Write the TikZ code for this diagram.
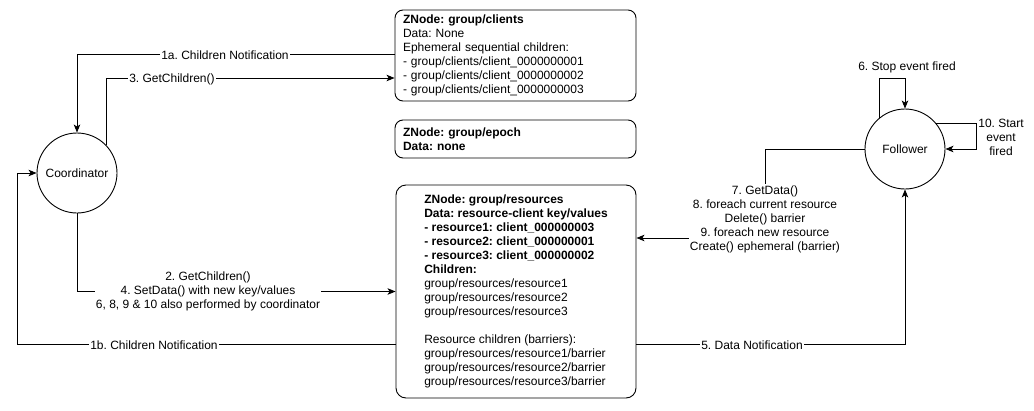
\documentclass[tikz,border=0pt]{standalone}
\usepackage{fontspec}
\setmainfont{Liberation Sans}
\usetikzlibrary{arrows.meta}
\begin{document}
\frenchspacing
\begin{tikzpicture}[x=1pt,y=-1pt,
  font=\fontsize{12}{14}\selectfont\frenchspacing,
  conn/.style={draw, line width=0.9pt, -{Stealth[length=8pt,width=6.5pt,inset=2pt]}},
  plain/.style={draw, line width=0.9pt},
  lbl/.style={fill=white, inner sep=1pt, align=center},
  actor/.style={circle, draw, line width=0.9pt, minimum size=80pt, inner sep=0pt},
  zbox/.style={draw, line width=0.9pt, rounded corners=8pt}]
\useasboundingbox (0,0) rectangle (1034,410);

% actors
\node[actor] (coord) at (77,173) {Coordinator};
\node[actor] (fol) at (905,149) {Follower};

% znodes
\node[zbox, minimum width=241pt, minimum height=91pt, text width=225pt, inner xsep=8pt, align=left] (clients) at (515.5,55.5)
 {\textbf{ZNode: group/clients}\\
  Data: None\\
  Ephemeral sequential children:\\
  - group/clients/client\_0000000001\\
  - group/clients/client\_0000000002\\
  - group/clients/client\_0000000003};
\node[zbox, minimum width=241pt, minimum height=38pt, text width=225pt, inner xsep=8pt, align=left] (epoch) at (515.5,139)
 {\textbf{ZNode: group/epoch}\\
  \textbf{Data: none}};
\node[zbox, rounded corners=10pt, minimum width=240pt, minimum height=213pt, align=left] (res) at (516,291.5)
 {\textbf{ZNode: group/resources}\\
  \textbf{Data: resource-client key/values}\\
  \textbf{- resource1: client\_000000003}\\
  \textbf{- resource2: client\_000000001}\\
  \textbf{- resource3: client\_000000002}\\
  \textbf{Children:}\\
  group/resources/resource1\\
  group/resources/resource2\\
  group/resources/resource3\\[14pt]
  Resource children (barriers):\\
  group/resources/resource1/barrier\\
  group/resources/resource2/barrier\\
  group/resources/resource3/barrier};

% helper coordinates
\coordinate (l1b) at (17,344);
\coordinate (k7) at (765,238);
\coordinate (s6) at (905,78);
\coordinate (s10) at (976,149);

% connectors
\draw[conn] ([yshift=1.5pt]clients.west) -| (coord.north);
\draw[conn] (coord.44) |- ([yshift=-22.5pt]clients.west);
\draw[conn] (coord.south) |- (res.west);
\draw[conn] ([yshift=-52.5pt]res.west) -- (l1b) |- (coord.west);
\draw[conn] (fol.west) -| (k7) -- (k7 -| res.east);
\draw[conn] ([yshift=-52.5pt]res.east) -| (fol.south);
\draw[conn] (fol.130) |- (s6) -- (fol.north);
\draw[conn] (fol.39) -| (s10) -- (fol.east);

% labels
\node[lbl] (t1a) at (225,55) {1a. Children Notification};
\node[lbl] (t3) at (172,79) {3. GetChildren()};
\node[lbl] (t2) at (208,291) {2. GetChildren()\\4. SetData() with new key/values\\6, 8, 9 \& 10 also performed by coordinator};
\node[lbl] (t1b) at (154,345) {1b. Children Notification};
\node[lbl] (t7) at (765,219) {7. GetData()\\8. foreach current resource\\Delete() barrier\\9. foreach new resource\\Create() ephemeral (barrier)};
\node[lbl] (t5) at (752,345) {5. Data Notification};
\node[lbl] (t6) at (907,67) {6. Stop event fired};
\node[lbl, fill=none] (t10) at (1001,137) {10. Start\\event\\fired};
\end{tikzpicture}
\end{document}
